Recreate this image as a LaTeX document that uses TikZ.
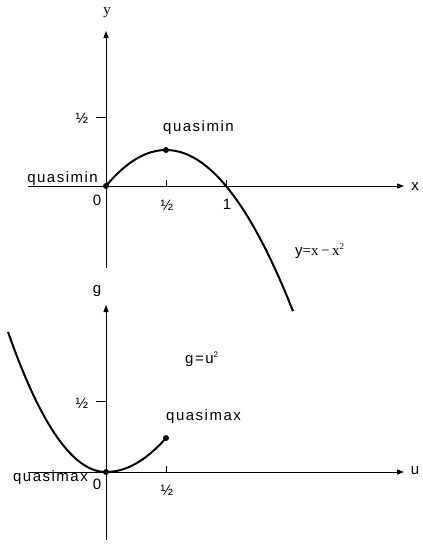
\documentclass[tikz,border=0pt]{standalone}
\usepackage{fontspec}
\setmainfont{Liberation Sans}[LetterSpace=10]
\newfontfamily\serifx{Liberation Serif}
\usetikzlibrary{arrows.meta}
\tikzset{
  axis/.style={line width=0.9pt,-{Triangle[length=7pt,width=5pt]}},
  curve/.style={line width=2pt},
  tick/.style={line width=0.9pt},
  lbl/.style={inner sep=0pt,font=\fontsize{15}{17}\selectfont},
  dot/.style={circle,fill=black,inner sep=0pt,minimum size=6pt},
}
\begin{document}
\begin{tikzpicture}[x=1pt,y=-1pt]
\useasboundingbox (0,0) rectangle (423,544);
% ---------- top plot ----------
\coordinate (xs) at (28,186);
\coordinate (xe) at (404,186);
\coordinate (ys) at (106,268);
\coordinate (ye) at (106,31);
\draw[axis] (xs) -- (xe);
\draw[axis] (ys) -- (ye);
\node[lbl,font=\serifx\fontsize{15}{17}\selectfont] (ylab) at (107,13) {y};
\node[lbl] (xlab) at (415,187) {x};
\coordinate (yt1) at (96,117); \coordinate (yt2) at (106,117);
\draw[tick] (yt1) -- (yt2);
\coordinate (xt1) at (166,180); \coordinate (xt2) at (166,186);
\draw[tick] (xt1) -- (xt2);
\coordinate (xu1) at (226,180); \coordinate (xu2) at (226,186);
\draw[tick] (xu1) -- (xu2);
\node[lbl] (yhalf) at (82,118) {½};
\node[lbl] (xhalf) at (167,205) {½};
\node[lbl] (xone) at (227,204) {1};
\node[lbl] (zero1) at (97,200) {0};
\draw[curve] plot[domain=106:293,samples=80] (\x,{186-0.01*(\x-106)*(226-\x)});
\node[dot] (o1) at (106,186) {};
\node[dot] (peak) at (166,150) {};
\node[lbl,anchor=west] (qmin1) at (163,128) {quasimin};
\node[lbl,anchor=east] (qmin2) at (98,179) {quasimin};
\node[lbl,anchor=west] (eq1) at (295,251) {y{\serifx\fontsize{15}{17}\selectfont=x{\,}−{\,}x\raisebox{6pt}{\fontsize{9}{10}\selectfont 2}}};
% ---------- bottom plot ----------
\coordinate (us) at (28,472);
\coordinate (ue) at (404,472);
\coordinate (gs) at (106,540);
\coordinate (ge) at (106,305);
\draw[axis] (us) -- (ue);
\draw[axis] (gs) -- (ge);
\node[lbl] (glab) at (97,291) {g};
\node[lbl] (ulab) at (415,471) {u};
\coordinate (gt1) at (96,401); \coordinate (gt2) at (106,401);
\draw[tick] (gt1) -- (gt2);
\coordinate (ut1) at (166,466); \coordinate (ut2) at (166,472);
\draw[tick] (ut1) -- (ut2);
\node[lbl] (ghalf) at (82,403) {½};
\node[lbl] (uhalf) at (167,490) {½};
\node[lbl] (zero2) at (97,484) {0};
\draw[curve] plot[domain=8:106,samples=60] (\x,{472-0.01458*(\x-106)*(\x-106)})
  -- plot[domain=106:166,samples=40] (\x,{472-0.00944*(\x-106)*(\x-106)});
\node[dot] (o2) at (106,472) {};
\node[dot] (endp) at (166,438) {};
\node[lbl,anchor=west] (qmax1) at (166,417) {quasimax};
\node[lbl,anchor=east] (qmax2) at (88,478) {quasimax};
\node[lbl,anchor=west] (eq2) at (185,359) {g=u\raisebox{6pt}{\fontsize{8}{9}\selectfont 2}};
\end{tikzpicture}
\end{document}
